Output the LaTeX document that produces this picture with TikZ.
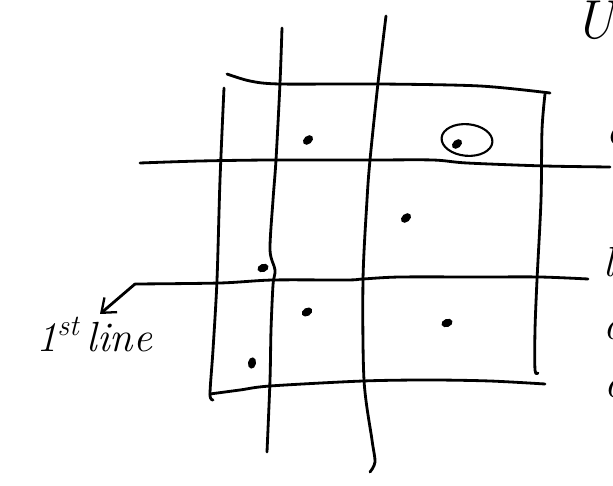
\documentclass[tikz,border=0pt]{standalone}
\usepackage{tikz}
\usetikzlibrary{arrows.meta, shapes.geometric}

\begin{document}
\begin{tikzpicture}[
        x=0.02cm, y=-0.02cm,
        pen/.style={line width=1.6pt, line cap=round, line join=round},
        blob/.style={ellipse, fill=black, inner sep=0pt,
                     minimum width=6.5pt, minimum height=4.6pt},
        ring/.style={ellipse, draw, line width=1.2pt, inner sep=0pt,
                     minimum width=29pt, minimum height=18pt},
        arr/.style={pen, -{Straight Barb[length=7pt, width=11pt, line width=1.3pt]}},
        scrawl/.style={font=\itshape\fontsize{24}{24}\selectfont, inner sep=0pt}
      ]
        \useasboundingbox (0,0) rectangle (613,486);

        % outer frame
        \draw[pen] plot[smooth] coordinates {(227,74) (250,81) (280,84) (380,84) (480,86) (550,93)};
        \draw[pen] plot[smooth] coordinates {(224,88) (220,180) (217,280) (213,350) (210,394) (213,400)};
        \draw[pen] plot[smooth] coordinates {(210,394) (240,390) (270,386) (363,381) (430,380) (490,381) (545,384)};
        \draw[pen] plot[smooth] coordinates {(545,94) (542,130) (541,200) (537,280) (535,330) (535,370) (538,373)};

        % the two vertical lines
        \draw[pen] plot[smooth] coordinates {(282,28) (280,83) (276,160) (273,200) (270,250) (275,270) (273,285) (271,330) (270,380) (267,452)};
        \draw[pen] plot[smooth] coordinates {(386,16) (378,83) (370,160) (367,200) (363,280) (364,380) (372,440) (375,462) (370,472)};

        % the two horizontal lines
        \draw[pen] plot[smooth] coordinates {(140,163) (200,161) (270,160) (370,160) (433,160) (467,163) (545,166) (610,167)};
        \draw[pen] plot[smooth] coordinates {(135,284) (220,283) (273,280) (347,280) (363,279) (400,277) (480,277) (540,277) (588,279)};
        \coordinate (start) at (135,284);

        % points
        \node[blob, rotate=40]  (d1) at (308,140) {};
        \node[blob, rotate=40]  (d2) at (457,144) {};
        \node[ring, rotate=-5]  (r2) at (467,140) {};
        \node[blob, rotate=40]  (d3) at (406,218) {};
        \node[blob, rotate=20]  (d4) at (263,268) {};
        \node[blob, rotate=30]  (d5) at (307,312) {};
        \node[blob, rotate=20]  (d6) at (447,323) {};
        \node[blob, rotate=80]  (d7) at (252,363) {};

        % label
        \node[scrawl, anchor=north west] (lbl) at (36,317) {1\textsuperscript{st}\,line};
        \coordinate (tip) at (100,314);
        \draw[arr] (start) -- (tip);

        % words cut off at the right edge
        \node[scrawl, scale=1.3, anchor=south west] (w1) at (574,40) {U};
        \node[scrawl, anchor=west] (w2) at (606,135) {c};
        \node[scrawl, anchor=west] (w3) at (603,262) {l};
        \node[scrawl, anchor=west] (w4) at (603,330) {c};
        \node[scrawl, anchor=west] (w5) at (604,388) {c};
\end{tikzpicture}
\end{document}
